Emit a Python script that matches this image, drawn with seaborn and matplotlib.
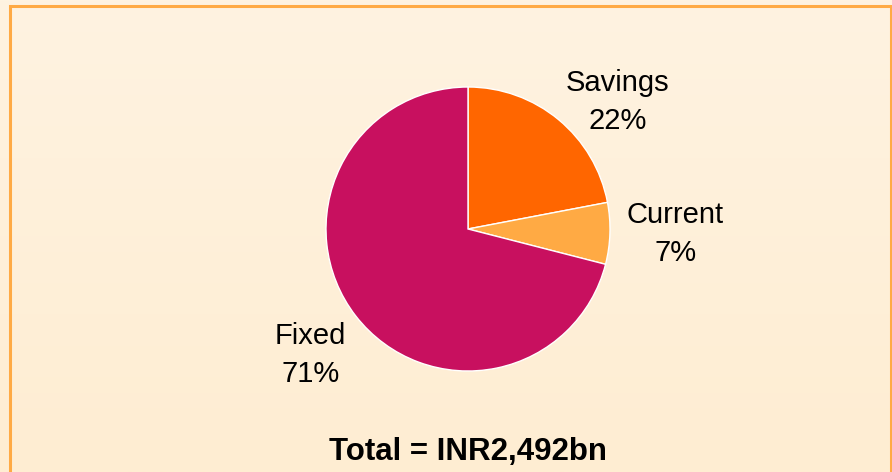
import numpy as np
import matplotlib.pyplot as plt
import seaborn as sns
from matplotlib.patches import Rectangle

# data
segments = ['Savings', 'Current', 'Fixed']
shares = [22, 7, 71]
seg_colors = ['#FF6600', '#FFAA44', '#C8105F']
title_text = 'Total = INR2,492bn'

sns.set_style('white')
plt.rcParams['font.family'] = ['Liberation Sans', 'DejaVu Sans']
plt.rcParams['text.color'] = 'black'

fig = plt.figure(figsize=(8.92, 4.72), dpi=100)

# soft vertical gradient background
bg = fig.add_axes([0, 0, 1, 1])
grad = np.linspace(0, 1, 256).reshape(-1, 1)
top = np.array([254, 243, 225]) / 255
bot = np.array([255, 237, 210]) / 255
img = top + (bot - top) * grad[:, :, None]
bg.imshow(img, aspect='auto', extent=[0, 1, 0, 1], origin='upper')
bg.set_xlim(0, 1)
bg.set_ylim(0, 1)
bg.axis('off')

# orange frame
fig.patches.append(Rectangle((10 / 892, -0.05), (881 / 892), 1 - 6 / 472 + 0.05,
                             transform=fig.transFigure, fill=False,
                             edgecolor='#FFAA44', linewidth=2.2, zorder=5))

# pie
ax = fig.add_axes([(468 - 142) / 892, (472 - 371) / 472, 284 / 892, 284 / 472])
ax.pie(shares, colors=sns.color_palette(seg_colors), startangle=90, counterclock=False,
       radius=1, wedgeprops=dict(edgecolor='white', linewidth=1))
ax.set_xlim(-1, 1)
ax.set_ylim(-1, 1)
ax.set_aspect('equal')
ax.axis('off')

label_pos = [(1.056, 0.894), (1.46, -0.035), (-1.11, -0.89)]
for name, val, (lx, ly) in zip(segments, shares, label_pos):
    ax.text(lx, ly, f'{name}\n{val}%', ha='center', va='center', fontsize=21,
            linespacing=1.45, color='black', clip_on=False)

fig.text(468 / 892, 1 - 452 / 472, title_text, ha='center', va='center',
         fontsize=22.5, fontweight='bold', color='black')

fig.savefig('out.png', dpi=100)
